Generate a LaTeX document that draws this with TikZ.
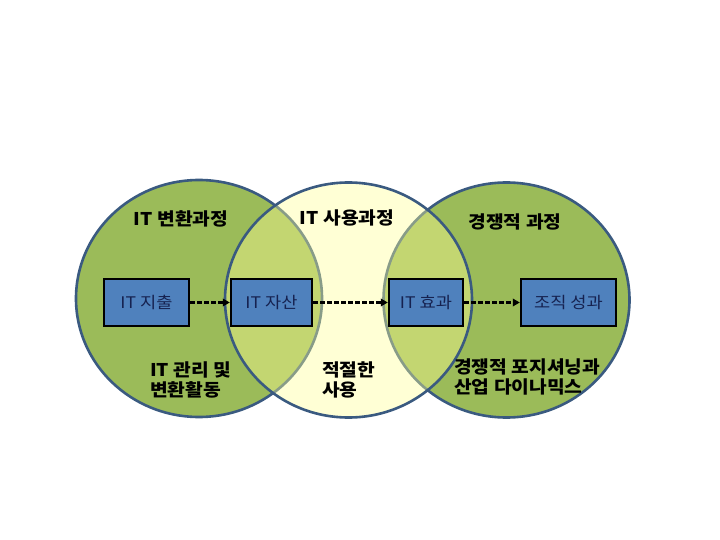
\documentclass[tikz,border=0pt]{standalone}
\usepackage{fontspec}
\newfontfamily\kr{Noto Sans CJK KR}[FakeStretch=1.1]
\usetikzlibrary{arrows.meta}
\definecolor{olive}{RGB}{155,187,89}
\definecolor{paleyel}{RGB}{255,255,150}
\definecolor{rimblue}{RGB}{58,90,128}
\definecolor{boxblue}{RGB}{79,129,189}
\definecolor{boxtext}{RGB}{22,34,80}
\tikzset{
  vennring/.style={draw=rimblue, line width=2.6pt},
  stagebox/.style={draw=black, line width=2.4pt, fill=boxblue, text=boxtext,
    font=\kr\fontsize{16}{19}\selectfont, minimum height=47pt, inner sep=0pt},
  label/.style={font=\kr\bfseries\fontsize{17.5}{20.5}\selectfont, text=black, inner sep=0pt},
  flow/.style={draw=black, line width=2.4pt, dash pattern=on 4.5pt off 2.5pt,
    -{Triangle[length=7pt,width=7.5pt]}}
}
\begin{document}
\begin{tikzpicture}[x=1pt,y=-1pt]
\useasboundingbox (0,0) rectangle (720,540);
\fill[white] (0,0) rectangle (720,540);
% outer circles
\draw[vennring, fill=olive] (199,298.5) ellipse [x radius=123, y radius=118.5];
\draw[vennring, fill=olive] (506.5,300) ellipse [x radius=123, y radius=117.5];
% middle circle, semi-transparent fill
\fill[paleyel, fill opacity=0.4] (348.5,300) ellipse [x radius=123.5, y radius=117.5];
\draw[vennring] (348.5,300) ellipse [x radius=123.5, y radius=117.5];
% boxes
\node[stagebox, minimum width=85pt] (spend) at (146.5,302.5) {IT 지출};
\node[stagebox, minimum width=81pt] (asset) at (271.5,302.5) {IT 자산};
\node[stagebox, minimum width=74pt] (effect) at (426,302.5) {IT 효과};
\node[stagebox, minimum width=95pt] (perf) at (568.5,302.5) {조직 성과};
% arrows
\draw[flow] (spend.east) -- (asset.west);
\draw[flow] (asset.east) -- (effect.west);
\draw[flow] (effect.east) -- (perf.west);
% labels
\node[label] (l1) at (181,219) {IT 변환과정};
\node[label] (l2) at (347,218) {IT 사용과정};
\node[label] (l3) at (515,222) {경쟁적 과정};
\node[label, anchor=west, align=left] (l4) at (150,380) {IT 관리 및\\변환활동};
\node[label, anchor=west, align=left] (l5) at (322,380) {적절한\\사용};
\node[label, anchor=west, align=left] (l6) at (454,377) {경쟁적 포지셔닝과\\산업 다이나믹스};
\end{tikzpicture}
\end{document}
